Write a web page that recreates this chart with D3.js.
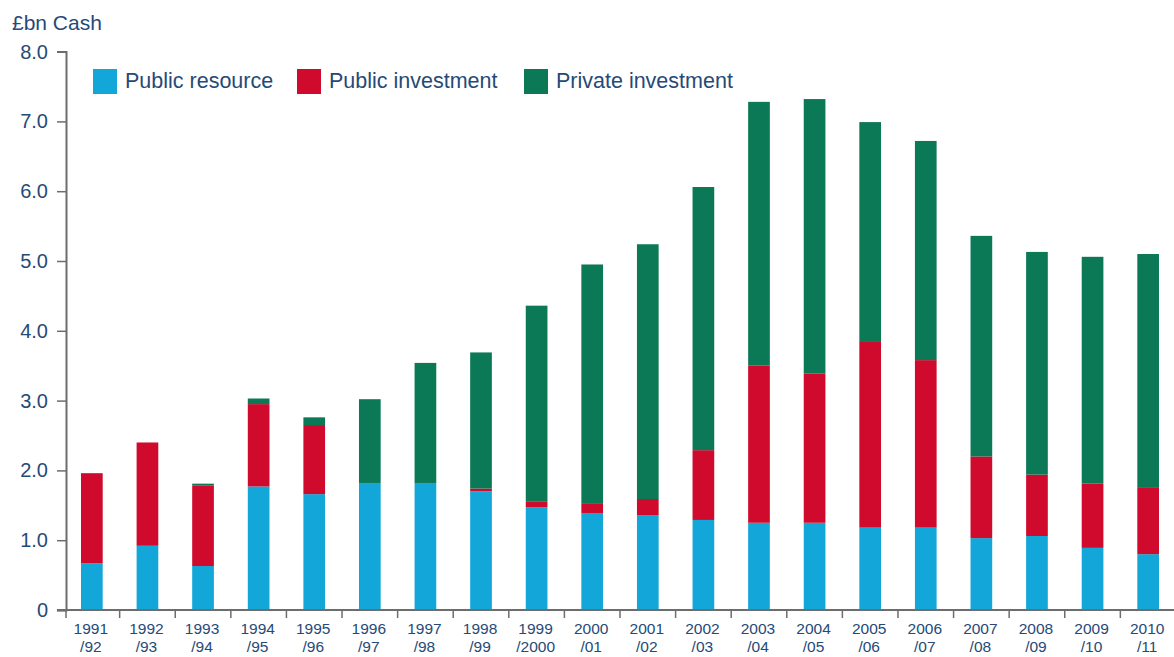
<!DOCTYPE html>
<html>
<head>
<meta charset="utf-8">
<script src="https://cdn.jsdelivr.net/npm/d3@7"></script>
<style>
  body { margin: 0; background: #fff; }
  svg text { font-family: "Liberation Sans", Arial, sans-serif; fill: #264a77; }
</style>
</head>
<body>
<script>
const years = ["1991/92","1992/93","1993/94","1994/95","1995/96","1996/97","1997/98","1998/99","1999/2000","2000/01",
               "2001/02","2002/03","2003/04","2004/05","2005/06","2006/07","2007/08","2008/09","2009/10","2010/11"];
const publicResource   = [0.67,0.92,0.63,1.77,1.66,1.82,1.82,1.70,1.47,1.39,1.36,1.29,1.25,1.25,1.18,1.18,1.03,1.06,0.89,0.80];
const publicInvestment = [1.29,1.48,1.15,1.18,0.99,0,0,0.04,0.08,0.13,0.23,1.00,2.25,2.14,2.66,2.40,1.17,0.88,0.92,0.96];
const privateInvestment= [0,0,0.03,0.08,0.11,1.20,1.72,1.95,2.81,3.43,3.65,3.77,3.78,3.93,3.15,3.14,3.16,3.19,3.25,3.34];
const seriesNames = ["Public resource","Public investment","Private investment"];
const colors = ["#12a6d9","#cf0a2c","#0b7856"];
const yTicks = [0,1,2,3,4,5,6,7,8];

const W = 1174, H = 657;
const svg = d3.select("body").append("svg").attr("width", W).attr("height", H);

const x0 = 66, x1 = 1174, yBase = 610, yTop = 51.6;
const x = d3.scaleBand().domain(years).range([x0, x1]).paddingInner(0.61).paddingOuter(0.27);
const y = d3.scaleLinear().domain([0, 8]).range([yBase, yTop]);

const rows = years.map((yr, i) => ({
    year: yr,
    "Public resource": publicResource[i],
    "Public investment": publicInvestment[i],
    "Private investment": privateInvestment[i]
}));
const stacked = d3.stack().keys(seriesNames)(rows);

svg.append("g")
    .selectAll("g")
    .data(stacked)
    .enter()
    .append("g")
    .attr("fill", (d, i) => colors[i])
    .selectAll("rect")
    .data(d => d)
    .enter()
    .append("rect")
    .attr("x", d => x(d.data.year))
    .attr("y", d => y(d[1]))
    .attr("width", x.bandwidth())
    .attr("height", d => y(d[0]) - y(d[1]));

// y axis
const yAxis = svg.append("g")
    .attr("transform", "translate(" + x0 + ",0)")
    .call(d3.axisLeft(y).tickValues(yTicks).tickSize(9).tickPadding(9)
        .tickFormat(d => d === 0 ? "0" : d3.format(".1f")(d)));
yAxis.select(".domain").attr("stroke", "#6d6d6d").attr("stroke-width", 2);
yAxis.selectAll(".tick line").attr("stroke", "#6d6d6d").attr("stroke-width", 1.5);
yAxis.selectAll(".tick text").attr("font-size", "20px").attr("fill", "#264a77");

// x axis line
svg.append("line")
    .attr("x1", x0 - 9).attr("x2", x1)
    .attr("y1", yBase).attr("y2", yBase)
    .attr("stroke", "#6d6d6d").attr("stroke-width", 2);

// x boundary ticks
const step = x.step();
const bounds = [x0].concat(years.slice(0, -1).map(d => x(d) + x.bandwidth() + (step - x.bandwidth()) / 2));
svg.append("g")
    .selectAll("line")
    .data(bounds)
    .enter()
    .append("line")
    .attr("x1", d => d).attr("x2", d => d)
    .attr("y1", yBase).attr("y2", yBase + 8)
    .attr("stroke", "#6d6d6d").attr("stroke-width", 1.5);

// x labels (two lines)
const xl = svg.append("g")
    .selectAll("text")
    .data(years)
    .enter()
    .append("text")
    .attr("text-anchor", "middle")
    .attr("font-size", "15.5px")
    .attr("transform", d => "translate(" + (x(d) + x.bandwidth() / 2 - 1) + ",0)");
xl.append("tspan").attr("x", 0).attr("y", 634).text(d => d.split("/")[0]);
xl.append("tspan").attr("x", 0).attr("y", 652).text(d => "/" + d.split("/")[1]);

// unit title
svg.append("text")
    .attr("x", 12).attr("y", 30)
    .attr("font-size", "21px")
    .text("£bn Cash");

// legend
const legendX = [93, 297, 524];
const lg = svg.append("g")
    .selectAll("g")
    .data(seriesNames)
    .enter()
    .append("g")
    .attr("transform", (d, i) => "translate(" + legendX[i] + ",69)");
lg.append("rect").attr("width", 24).attr("height", 25).attr("fill", (d, i) => colors[i]);
lg.append("text").attr("x", 32).attr("y", 19).attr("font-size", "21.5px").text(d => d);
</script>
</body>
</html>
